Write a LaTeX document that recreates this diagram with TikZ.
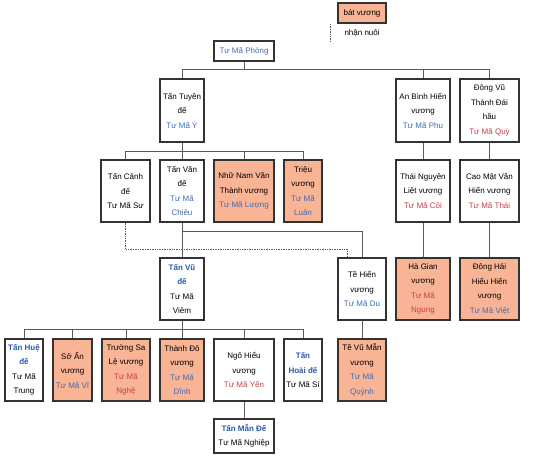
\documentclass[tikz,border=0pt]{standalone}
\usepackage{fontspec}
\setmainfont{Liberation Sans}
\usepackage{tikz}
\usetikzlibrary{calc}
\definecolor{famB}{RGB}{62,108,184}
\definecolor{famR}{RGB}{200,64,72}
\definecolor{famT}{RGB}{40,92,172}
\definecolor{famF}{RGB}{248,180,148}
\definecolor{famL}{RGB}{90,90,90}
\newcommand{\nb}[1]{\textcolor{famB}{#1}}
\newcommand{\nr}[1]{\textcolor{famR}{#1}}
\newcommand{\tb}[1]{\textcolor{famT}{\bfseries #1}}

\begin{document}
\begin{tikzpicture}[x=1pt, y=-1pt,
  person/.style={draw=black!80, line width=1.1pt, fill=white, align=center,
    inner sep=0pt, font=\fontsize{8}{14.5}\selectfont},
  king/.style={person, fill=famF},
  link/.style={famL, line width=0.7pt},
  adopt/.style={famL, line width=0.7pt, densely dotted}]
\useasboundingbox (0,0) rectangle (551,462);
% legend
\node[king, minimum width=48pt, minimum height=20pt] (legbat) at (362,13) {bát vương};
\node[anchor=west, font=\fontsize{8}{14.5}\selectfont] (legadopt) at (341,33) {nhận nuôi};
\coordinate (legtop) at (330,24);
\coordinate (legbot) at (330,42);
\draw[adopt] (legtop) -- (legbot);
% generation 1
\node[person, minimum width=60pt, minimum height=20pt] (phong) at (244,51) {\nb{Tư Mã Phòng}};
% generation 2
\node[person, minimum width=44pt, minimum height=63pt] (tuyen) at (182,110.5) {Tấn Tuyên\\đế\\\nb{Tư Mã Ý}};
\node[person, minimum width=54pt, minimum height=63pt] (anbinh) at (423,110.5) {An Bình Hiến\\vương\\\nb{Tư Mã Phu}};
\node[person, minimum width=59pt, minimum height=63pt] (dongvu) at (489.5,110.5) {Đông Vũ\\Thành Đái\\hầu\\\nr{Tư Mã Quỳ}};
% generation 3
\node[person, minimum width=49pt, minimum height=62pt] (canh) at (125.5,191) {Tấn Cảnh\\đế\\Tư Mã Sư};
\node[person, minimum width=44pt, minimum height=62pt] (van) at (182,191) {Tấn Văn\\đế\\\nb{Tư Mã}\\\nb{Chiêu}};
\node[king, minimum width=60pt, minimum height=62pt] (nhunam) at (244,191) {Nhữ Nam Văn\\Thành vương\\\nb{Tư Mã Lượng}};
\node[king, minimum width=38pt, minimum height=62pt] (trieu) at (303,191) {Triệu\\vương\\\nb{Tư Mã}\\\nb{Luân}};
\node[person, minimum width=54pt, minimum height=62pt] (thainguyen) at (423,191) {Thái Nguyên\\Liệt vương\\\nr{Tư Mã Côi}};
\node[person, minimum width=59pt, minimum height=62pt] (caomat) at (489.5,191) {Cao Mật Văn\\Hiến vương\\\nr{Tư Mã Thái}};
% generation 4
\node[person, minimum width=44pt, minimum height=62pt] (vu) at (182,289) {\tb{Tấn Vũ}\\\tb{đế}\\Tư Mã\\Viêm};
\node[person, minimum width=48pt, minimum height=62pt] (tehien) at (362,289) {Tề Hiến\\vương\\\nb{Tư Mã Du}};
\node[king, minimum width=54pt, minimum height=62pt] (hagian) at (423,289) {Hà Gian\\vương\\\nr{Tư Mã}\\\nr{Ngung}};
\node[king, minimum width=59pt, minimum height=62pt] (donghai) at (489.5,289) {Đông Hải\\Hiếu Hiến\\vương\\\nb{Tư Mã Việt}};
% generation 5
\node[person, minimum width=38pt, minimum height=62pt] (hue) at (24,370) {\tb{Tấn Huệ}\\\tb{đế}\\Tư Mã\\Trung};
\node[king, minimum width=39pt, minimum height=62pt] (soan) at (72.5,370) {Sở Ấn\\vương\\\nb{Tư Mã Vĩ}};
\node[king, minimum width=48pt, minimum height=62pt] (truongsa) at (126,370) {Trường Sa\\Lệ vương\\\nr{Tư Mã}\\\nr{Nghệ}};
\node[king, minimum width=44pt, minimum height=62pt] (thanhdo) at (182,370) {Thành Đô\\vương\\\nb{Tư Mã}\\\nb{Dĩnh}};
\node[person, minimum width=60pt, minimum height=62pt] (ngo) at (244,370) {Ngô Hiếu\\vương\\\nr{Tư Mã Yến}};
\node[person, minimum width=38pt, minimum height=62pt] (hoai) at (303,370) {\tb{Tấn}\\\tb{Hoài đế}\\Tư Mã Sí};
\node[king, minimum width=48pt, minimum height=62pt] (tevu) at (362,370) {Tề Vũ Mẫn\\vương\\\nb{Tư Mã}\\\nb{Quýnh}};
% generation 6
\node[person, minimum width=60pt, minimum height=34pt] (man) at (244,436) {\tb{Tấn Mẫn Đế}\\Tư Mã Nghiệp};
% bus levels
\coordinate (busA) at (0,69);
\coordinate (busB) at (0,151);
\coordinate (busC) at (0,231);
\coordinate (busD) at (0,329);
\coordinate (adoptbend) at (347,249);
% lines of descent
\draw[link] (phong.south) -- (phong.south |- busA);
\draw[link] (tuyen.north) |- (dongvu.north |- busA) -- (dongvu.north);
\draw[link] (anbinh.north) -- (anbinh.north |- busA);
\draw[link] (tuyen.south) -- (tuyen.south |- busB);
\draw[link] (canh.north) |- (trieu.north |- busB) -- (trieu.north);
\draw[link] (van.north) -- (van.north |- busB);
\draw[link] (nhunam.north) -- (nhunam.north |- busB);
\draw[link] (anbinh.south) -- (thainguyen.north);
\draw[link] (thainguyen.south) -- (hagian.north);
\draw[link] (dongvu.south) -- (caomat.north);
\draw[link] (caomat.south) -- (donghai.north);
\draw[link] (van.south) -- (vu.north);
\draw[link] (van.south |- busC) -| (tehien.north);
\draw[adopt] (canh.south) |- (adoptbend) -- (adoptbend |- tehien.north);
\draw[link] (vu.south) -- (vu.south |- busD);
\draw[link] (hue.north) |- (hoai.north |- busD) -- (hoai.north);
\foreach \kid in {soan, truongsa, thanhdo, ngo}
  \draw[link] (\kid.north) -- (\kid.north |- busD);
\draw[link] (tehien.south) -- (tevu.north);
\draw[link] (ngo.south) -- (man.north);
\end{tikzpicture}
\end{document}
